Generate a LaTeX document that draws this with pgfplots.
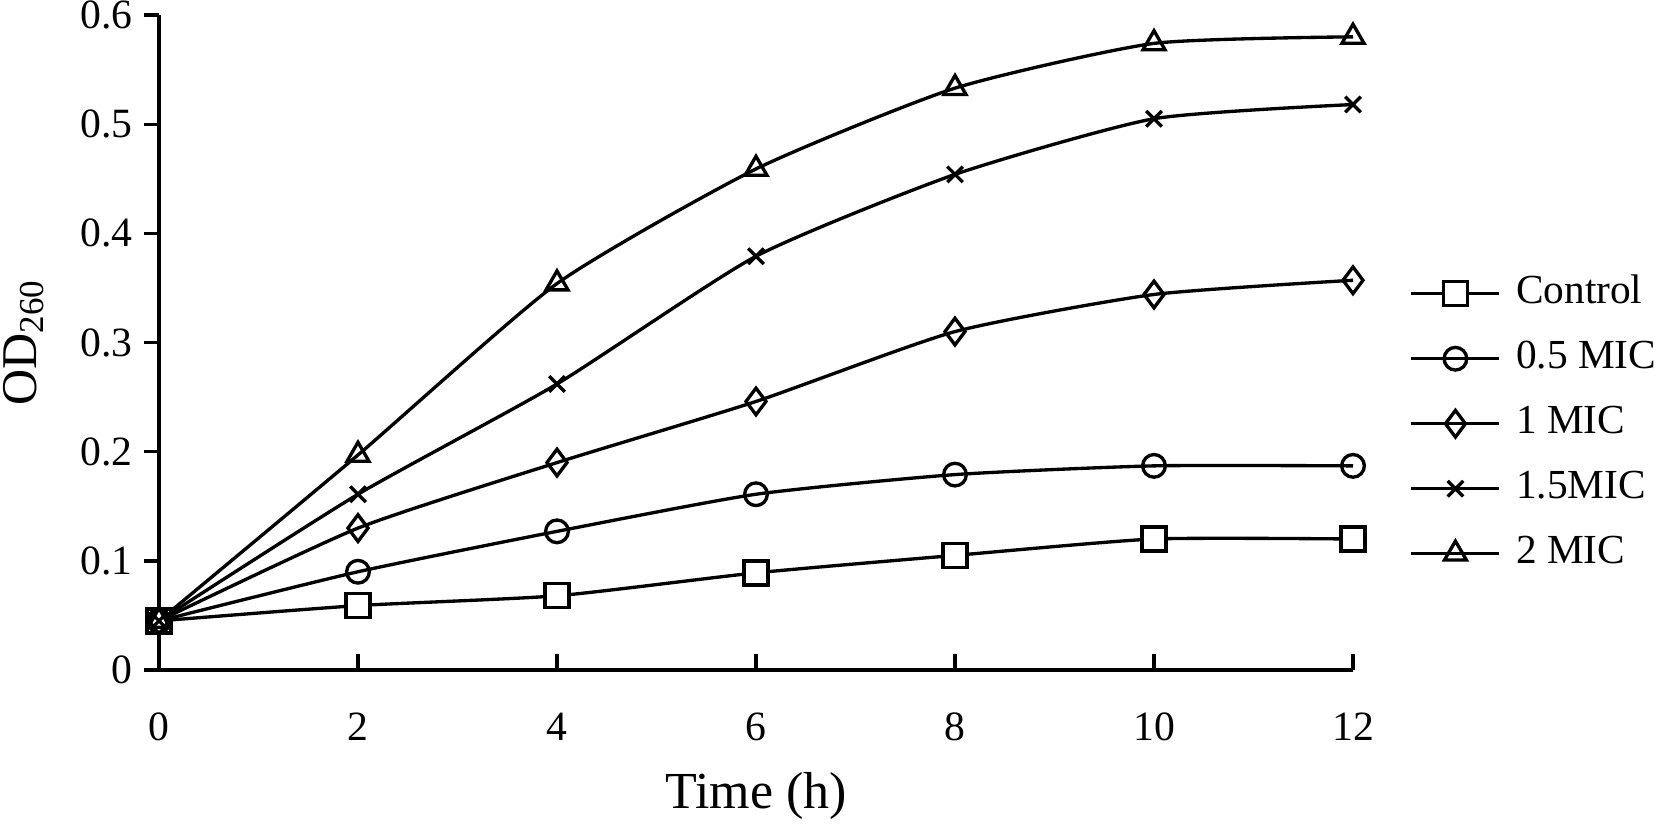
\documentclass[border=0pt]{standalone}
\usepackage{fontspec}
\setmainfont{Liberation Serif}
\usepackage{pgfplots}
\pgfplotsset{compat=1.18}
\begin{document}
\begin{tikzpicture}
\useasboundingbox (0,0) rectangle (496.5pt,247.5pt);
\begin{axis}[
  at={(47.7pt,46.5pt)}, anchor=south west,
  scale only axis, width=358.2pt, height=196.5pt,
  xmin=0, xmax=12, ymin=0, ymax=0.6,
  axis lines=left,
  axis line style={line width=1pt, -, black},
  x axis line style={shorten <=-4.5pt},
  xtick={0,2,...,12},
  ytick={0,0.1,...,0.6},
  yticklabels={0,0.1,0.2,0.3,0.4,0.5,0.6},
  every tick/.style={black, line width=1pt},
  y tick style={/pgfplots/major tick length=4.5pt},
  x tick style={/pgfplots/major tick length=4.8pt},
  xtick align=inside, ytick align=outside,
  /pgf/number format/assume math mode=true,
  tick label style={font=\fontsize{12.5}{14}\selectfont},
  yticklabel style={inner sep=0pt, anchor=east, xshift=-3.4pt},
  xticklabel style={inner sep=0pt, anchor=north, yshift=-12.6pt},
  xlabel={Time (h)},
  xlabel style={at={(axis description cs:0.5,0)}, anchor=north, inner sep=0pt, yshift=-30.5pt, font=\fontsize{15.6}{18}\selectfont},
  ylabel={OD\textsubscript{260}},
  ylabel style={at={(axis description cs:-0.1307,0.5)}, anchor=north, inner sep=0pt, font=\fontsize{15}{18}\selectfont},
  every axis plot/.append style={line width=1pt, black, smooth, tension=0.35},
  legend style={at={(axis description cs:1.047,0.376)}, anchor=west, draw=none, fill=none, inner sep=0pt,
    font=\fontsize{12.4}{15}\selectfont,
    nodes={inner sep=0pt, text height=9pt, text depth=3pt},
    row sep=7.5pt},
  legend cell align=left,
  legend image code/.code={
    \draw[mark repeat=2, mark phase=2, #1] plot coordinates {(0pt,0pt) (13.2pt,0pt) (26.4pt,0pt)};
    \path (30.9pt,0pt);
  },
]
\addplot[mark=square*, mark options={fill=white, solid, line width=1pt}, mark size=3.6pt]
  coordinates {(0,0.045) (2,0.059) (4,0.068) (6,0.089) (8,0.105) (10,0.120) (12,0.120)};
\addlegendentry{Control}
\addplot[mark=o, mark options={solid, line width=1pt}, mark size=3.4pt]
  coordinates {(0,0.045) (2,0.090) (4,0.127) (6,0.161) (8,0.179) (10,0.187) (12,0.187)};
\addlegendentry{0.5 MIC}
\addplot[mark=diamond, mark options={solid, line width=1pt}, mark size=4pt]
  coordinates {(0,0.045) (2,0.130) (4,0.190) (6,0.246) (8,0.310) (10,0.344) (12,0.357)};
\addlegendentry{1 MIC}
\addplot[mark=x, mark options={solid, line width=1pt}, mark size=3.3pt]
  coordinates {(0,0.045) (2,0.161) (4,0.262) (6,0.379) (8,0.454) (10,0.505) (12,0.518)};
\addlegendentry{1.5MIC}
\addplot[mark=triangle, mark options={solid, line width=1pt}, mark size=3.8pt]
  coordinates {(0,0.045) (2,0.197) (4,0.354) (6,0.459) (8,0.533) (10,0.574) (12,0.580)};
\addlegendentry{2 MIC}
\end{axis}
\end{tikzpicture}
\end{document}
